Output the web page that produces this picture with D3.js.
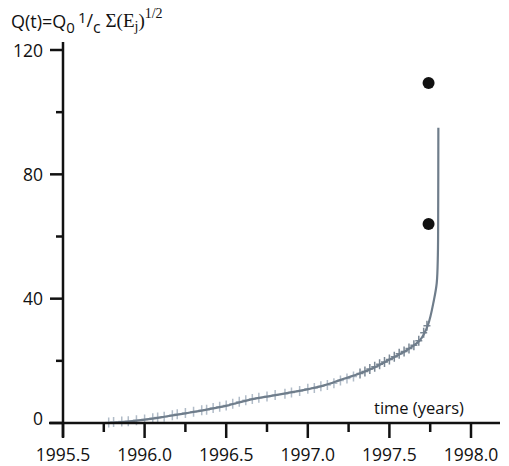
<!DOCTYPE html>
<html><head><meta charset="utf-8">
<script src="https://cdn.jsdelivr.net/npm/d3@7"></script>
<style>body{margin:0;background:#fff}svg{display:block}text{font-family:"Open Sans",sans-serif;fill:#111}</style>
</head><body><svg id="c" width="509" height="466"></svg>
<script>
// fitted curve Q(t)
const curveT = [1995.77,1995.88,1995.99,1996.12,1996.26,1996.38,1996.505,1996.63,1996.75,1996.88,1997.01,1997.1,1997.197,1997.3,1997.40,1997.5,1997.608,1997.688,1997.736,1997.773,1997.79,1997.797,1997.799,1997.8];
const curveQ = [0,0.4,1.0,2.0,3.2,4.3,5.6,7.3,8.5,9.7,11.0,12.1,13.8,15.6,17.7,20.4,23.5,26.7,31.5,39.6,45,54,70,95];
// observed points (crosses)
const obsT = [1995.78,1995.81,1995.86,1995.9,1995.95,1996.0,1996.05,1996.08,1996.12,1996.17,1996.2,1996.25,1996.3,1996.35,1996.38,1996.42,1996.46,1996.5,1996.54,1996.58,1996.62,1996.66,1996.7,1996.75,1996.8,1996.86,1996.9,1996.95,1997.0,1997.04,1997.08,1997.12,1997.16,1997.2,1997.24,1997.28,1997.32,1997.35,1997.38,1997.41,1997.44,1997.47,1997.5,1997.53,1997.56,1997.59,1997.62,1997.65,1997.68,1997.71,1997.73];
const obsQ = [0.2,0.3,0.5,0.6,0.9,1.1,1.5,1.8,2.0,2.5,2.8,3.2,3.6,4.1,4.3,4.8,5.2,5.6,6.2,6.8,7.3,7.7,8.1,8.5,9.0,9.4,9.8,10.3,11.0,11.3,11.8,12.2,12.8,13.7,14.3,15.0,15.9,16.6,17.4,18.1,18.9,19.6,20.4,21.3,22.3,23.0,24.0,25.0,26.5,29.0,31.3];
// single large dots
const dotT = [1997.74,1997.74];
const dotQ = [109.4,64];
const xTicks = [1995.5,1996.0,1996.5,1997.0,1997.5,1998.0];
const xMinor = [1995.75,1996.25,1996.75,1997.25,1997.75];
const yTicks = [0,40,80,120];
const yMinor = [20,60,100];

const svg = d3.select("#c");
const x = d3.scaleLinear().domain([1995.5,1998.0]).range([63,471]);
const y = d3.scaleLinear().domain([0,120]).range([423,50]);

// crosses
const g = svg.append("g");
obsT.forEach((t,i)=>{
  const px = x(t), py = y(obsQ[i]);
  const late = t > 1997.3;
  g.append("path").attr("d",`M${px-3.5},${py}H${px+3.5}M${px},${py-5}V${py+5}`)
   .attr("stroke", late ? "#4e5f70" : "#7d8fa3").attr("stroke-opacity",late?0.75:0.6).attr("stroke-width",1.5).attr("fill","none");
});

// fitted line
const line = d3.line().x((d,i)=>x(curveT[i])).y((d,i)=>y(curveQ[i])).curve(d3.curveCatmullRom.alpha(0.5));
svg.append("path").attr("d",line(curveT)).attr("fill","none").attr("stroke","#6f7d8b").attr("stroke-width",2.2);

// dots
dotT.forEach((t,i)=>{
  svg.append("circle").attr("cx",x(t)).attr("cy",y(dotQ[i])).attr("r",6).attr("fill","#111");
});

// axes
const ax = "#111";
svg.append("line").attr("x1",x(1995.5)).attr("x2",x(1995.5)).attr("y1",42).attr("y2",437).attr("stroke",ax).attr("stroke-width",2.5);
svg.append("line").attr("x1",49).attr("x2",500).attr("y1",y(0)).attr("y2",y(0)).attr("stroke",ax).attr("stroke-width",2.5);
xTicks.forEach(t=>{
  svg.append("line").attr("x1",x(t)).attr("x2",x(t)).attr("y1",y(0)).attr("y2",y(0)+15).attr("stroke",ax).attr("stroke-width",2.5);
  svg.append("text").attr("x",x(t)).attr("y",461).attr("text-anchor","middle").attr("font-size",17.5).text(t.toFixed(1));
});
xMinor.forEach(t=>{
  svg.append("line").attr("x1",x(t)).attr("x2",x(t)).attr("y1",y(0)).attr("y2",y(0)+9).attr("stroke",ax).attr("stroke-width",2.5);
});
yTicks.forEach(v=>{
  svg.append("line").attr("x1",50).attr("x2",x(1995.5)).attr("y1",y(v)).attr("y2",y(v)).attr("stroke",ax).attr("stroke-width",2.5);
  svg.append("text").attr("x",43).attr("y",y(v)+(v===0?2:6.5)).attr("text-anchor","end").attr("font-size",17.5).text(v);
});
yMinor.forEach(v=>{
  svg.append("line").attr("x1",56).attr("x2",x(1995.5)).attr("y1",y(v)).attr("y2",y(v)).attr("stroke",ax).attr("stroke-width",2.5);
});

svg.append("text").attr("x",374).attr("y",414).attr("font-size",16.5).text("time (years)");

// title
const serif = "'Liberation Serif','DejaVu Serif',serif";
const tt = svg.append("text").attr("x",11).attr("y",28).attr("font-size",18);
tt.append("tspan").text("Q(t)=Q");
tt.append("tspan").attr("dy",5).attr("font-size",15).text("0");
tt.append("tspan").attr("dy",-10).attr("font-size",15).attr("dx",3).text("1");
tt.append("tspan").attr("dy",4).text("/");
tt.append("tspan").attr("dy",6).attr("font-size",16).text("c");
tt.append("tspan").attr("dy",-6).attr("font-family",serif).attr("font-size",19).text(" Σ(E");
tt.append("tspan").attr("dy",4).attr("font-family",serif).attr("font-size",14).text("j");
tt.append("tspan").attr("dy",-4).attr("font-family",serif).attr("font-size",19).text(")");
tt.append("tspan").attr("dy",-9).attr("font-family",serif).attr("font-size",14).text("1/2");
</script></body></html>
